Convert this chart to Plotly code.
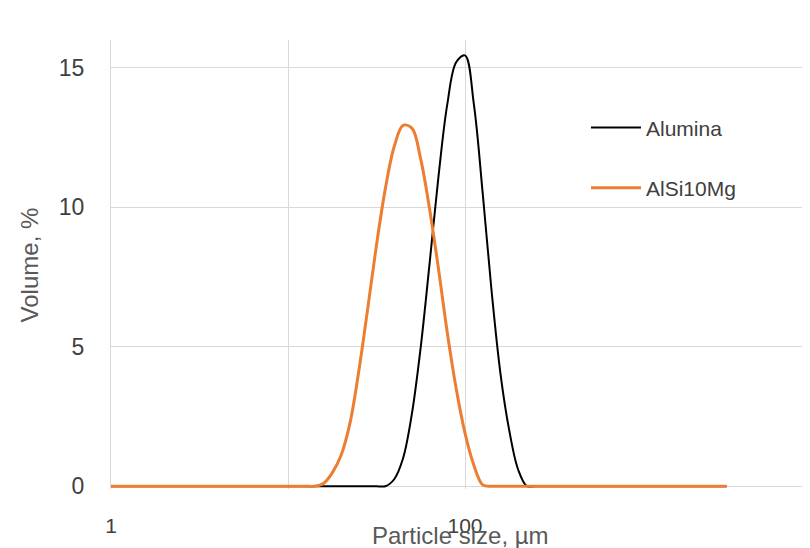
import plotly.graph_objects as go

# Particle size classes (µm)
size_um = [1, 2, 5, 10, 11.22, 12.59, 14.13, 15.85, 17.78, 19.95, 22.39, 25.12, 28.18,
           31.62, 35.48, 39.81, 44.67, 50.12, 56.23, 63.10, 70.79, 79.43, 89.13, 100.0,
           112.2, 125.9, 141.3, 158.5, 177.8, 199.5, 223.9, 251.2, 500, 1000, 2000, 3000]

# Volume % for each series
alumina_vol = [0, 0, 0, 0, 0, 0, 0, 0, 0, 0, 0, 0, 0,
               0, 0, 0.25, 1.0, 2.6, 5.0, 8.0, 11.1, 13.7, 15.2, 15.45,
               13.7, 10.5, 7.0, 4.05, 2.0, 0.6, 0, 0, 0, 0, 0, 0]
alsi10mg_vol = [0, 0, 0, 0, 0, 0, 0, 0.1, 0.48, 1.11, 2.26, 4.13, 6.35,
                8.65, 10.67, 12.18, 12.94, 12.84, 11.72, 9.93, 7.8, 5.5, 3.5, 1.9,
                0.75, 0.05, 0, 0, 0, 0, 0, 0, 0, 0, 0, 0]

series_names = ["Alumina", "AlSi10Mg"]
x_tick_vals = [1, 10, 100]
x_tick_text = ["1", "", "100"]
y_tick_vals = [0, 5, 10, 15]

FONT = "Liberation Sans, Arial, sans-serif"
GREY = "#595959"
DARK = "#404040"
GRID = "#d9d9d9"

fig = go.Figure()
fig.add_trace(go.Scatter(
    x=size_um, y=alumina_vol, name=series_names[0], mode="lines",
    line=dict(color="#000000", width=2, shape="spline", smoothing=1),
    legendgroup="a"))
fig.add_trace(go.Scatter(
    x=size_um, y=alsi10mg_vol, name=series_names[1], mode="lines",
    line=dict(color="#ED7D31", width=3, shape="spline", smoothing=1),
    legendgroup="b"))

fig.update_layout(
    width=810, height=548,
    margin=dict(l=103, r=8, t=32, b=67),
    paper_bgcolor="white", plot_bgcolor="white",
    font=dict(family=FONT, color=GREY),
    showlegend=True,
    legend=dict(x=0.6795, y=0.85, xanchor="left", yanchor="top",
                font=dict(size=21, color=DARK, family=FONT),
                bgcolor="rgba(0,0,0,0)", itemwidth=50,
                traceorder="grouped", tracegroupgap=30),
    xaxis=dict(type="log", range=[0, 3.949], tickvals=x_tick_vals, ticktext=x_tick_text,
               showgrid=True, gridcolor=GRID, gridwidth=1, zeroline=False,
               showline=False, ticks="", ticklabelstandoff=22,
               tickfont=dict(size=21, color=DARK, family=FONT)),
    yaxis=dict(range=[-0.1, 16], tickvals=y_tick_vals,
               showgrid=True, gridcolor=GRID, gridwidth=1, zeroline=False,
               showline=True, linecolor=GRID, linewidth=1, ticks="", ticklabelstandoff=21,
               tickfont=dict(size=23, color=DARK, family=FONT)),
    annotations=[
        dict(text="Particle size, µm", xref="paper", yref="paper", x=0.5, y=-0.103,
             xanchor="center", yanchor="middle", showarrow=False,
             font=dict(size=24, color=GREY, family=FONT)),
        dict(text="Volume, %", xref="paper", yref="paper", x=-0.116, y=0.5,
             xanchor="center", yanchor="middle", textangle=-90, showarrow=False,
             font=dict(size=24, color=GREY, family=FONT)),
    ],
)

fig.write_html("out.html")
